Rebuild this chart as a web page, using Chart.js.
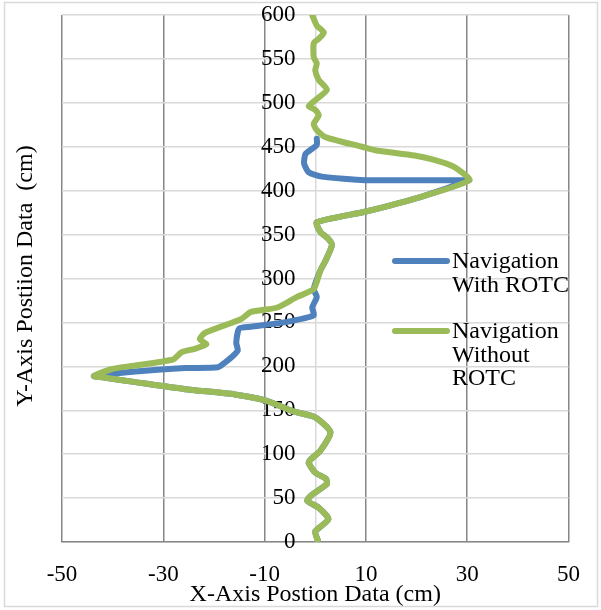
<!DOCTYPE html>
<html>
<head>
<meta charset="utf-8">
<script src="https://cdn.jsdelivr.net/npm/chart.js@4/dist/chart.umd.min.js"></script>
<style>
  html, body { margin: 0; padding: 0; background: #fff; }
  #wrap { width: 601px; height: 610px; }
</style>
</head>
<body>
<div id="wrap"><canvas id="myChart" width="601" height="610"></canvas></div>
<script>
// series (x in cm, y in cm)
const blueX = [0.5, 0, 2.6, 0.7, -1.6, -0.6, 2.3, 2.1, 0, -1.3, -0.9, 1, 3, 0, -4.5, -9.7, -15.9, -25.7, -35.5, -41.4, -43.7,
  -35.5, -25.7, -19.2, -17.9, -16.6, -15.3, -15.6, -15, -12.7, -6.2, -0.3, -0.6, 0.3, -0.3,
  1, 2, 3.3, 2.6, 1, 0.3, 9.8, 20.9, 30.4,
  29.4, 9.8, 1.3, -1.3, -2.2, -1.9, 0.3, 0.3];
const blueY = [2, 12, 26, 39, 47, 54, 66, 72, 79, 90, 94, 104, 125, 142, 149, 161, 168, 174, 182, 187, 189,
  194, 198, 199, 204, 210, 218, 227, 243, 245, 250, 258, 267, 279, 288,
  309, 320, 338, 345, 353, 364, 376, 393, 412,
  412, 412, 416, 421, 431, 442, 452, 459];

const greenX = [0.5, 0, 2.6, 0.7, -1.6, -0.6, 2.3, 2.1, 0, -1.3, -0.9, 1, 3, 0, -4.5, -9.7, -15.9, -25.7, -35.5, -41.4, -43.7,
  -40.1, -35.5, -28, -26.4, -23.8, -21.5, -22.8, -21.8, -14.6, -12.7, -7.5, -3.6, -0.3,
  1, 2, 3.3, 2.6, 1, 0.3, 9.8, 20.9, 30.4,
  27.4, 23.5, 19.6, 11.8, 9.2, 2, 0.3,
  -0.3, 0.7, 0, -1.3, 0, 2.3, 0.7, 0, 0.3, -0.3, -0.3, 0.7, 1.7, 0.3, -0.6];
const greenY = [2, 12, 26, 39, 47, 54, 66, 72, 79, 90, 94, 104, 125, 142, 149, 161, 168, 174, 182, 187, 189,
  197, 201, 208, 216, 220, 225, 231, 238, 254, 262, 267, 279, 288,
  309, 320, 338, 345, 353, 364, 376, 393, 412,
  427, 435, 440, 446, 450, 461, 469,
  476, 486, 492, 496, 503, 515, 526, 537, 545, 552, 568, 573, 580, 588, 600];

const legendLines = [['Navigation', 'With ROTC'], ['Navigation', 'Without', 'ROTC']];
const xTitle = 'X-Axis Postion Data (cm)';
const yTitle = 'Y-Axis Postiion Data  (cm)';

const X_MIN = -50, X_MAX = 50, X_STEP = 20;
const Y_MIN = 0, Y_MAX = 600, Y_STEP = 50;

const FONT = '"Liberation Serif", "Times New Roman", serif';
const BLUE = '#4F81BD';
const GREEN = '#9BBB59';

function toPoints(xs, ys) {
  return xs.map((x, i) => ({x: x, y: ys[i]}));
}

// frame, y title and legend in the Excel style
const decorations = {
  id: 'decorations',
  beforeDraw(chart) {
    const ctx = chart.ctx;
    ctx.save();
    ctx.fillStyle = '#fff';
    ctx.fillRect(0, 0, chart.width, chart.height);
    ctx.strokeStyle = '#D9D9D9';
    ctx.lineWidth = 1.5;
    ctx.strokeRect(4.5, 2.5, 593, 604);
    ctx.restore();
  },
  afterDraw(chart) {
    const ctx = chart.ctx;
    ctx.save();
    ctx.fillStyle = '#000';
    ctx.font = '24px ' + FONT;
    ctx.textAlign = 'center';
    ctx.textBaseline = 'middle';
    ctx.translate(26, 276);
    ctx.rotate(-Math.PI / 2);
    ctx.fillText(yTitle, 0, 0);
    ctx.restore();

    const tops = [261, 331];
    ctx.save();
    ctx.font = '24px ' + FONT;
    ctx.textBaseline = 'middle';
    ctx.textAlign = 'left';
    chart.data.datasets.forEach((ds, i) => {
      const y = tops[i];
      ctx.strokeStyle = ds.borderColor;
      ctx.lineWidth = 6;
      ctx.lineCap = 'round';
      ctx.beginPath();
      ctx.moveTo(395, y);
      ctx.lineTo(447, y);
      ctx.stroke();
      ctx.fillStyle = '#000';
      legendLines[i].forEach((t, j) => ctx.fillText(t, 452, y + 1 + j * 23.5));
    });
    ctx.restore();
  }
};

const data = {
  datasets: [
    {
      label: 'Navigation With ROTC',
      data: toPoints(blueX, blueY),
      borderColor: BLUE,
      backgroundColor: BLUE,
      order: 1
    },
    {
      label: 'Navigation Without ROTC',
      data: toPoints(greenX, greenY),
      borderColor: GREEN,
      backgroundColor: GREEN,
      order: 0
    }
  ]
};

const config = {
  type: 'scatter',
  data: data,
  options: {
    responsive: false,
    animation: false,
    showLine: true,
    elements: {
      point: { radius: 0, hoverRadius: 0 },
      line: { borderWidth: 6, tension: 0.2, borderCapStyle: 'round', borderJoinStyle: 'round', fill: false }
    },
    layout: { padding: { left: 62, right: 28, top: 15, bottom: 1 } },
    plugins: {
      legend: { display: false },
      tooltip: { enabled: false }
    },
    scales: {
      x: {
        type: 'linear',
        min: X_MIN,
        max: X_MAX,
        ticks: { stepSize: X_STEP, color: '#000', font: { family: FONT, size: 23, lineHeight: 1 }, padding: 21 },
        grid: { color: '#868686', lineWidth: 1.5, drawTicks: false },
        border: { color: '#868686', width: 1.5 },
        title: { display: true, text: xTitle, color: '#000', font: { family: FONT, size: 24, lineHeight: 1 }, padding: { top: -24, bottom: 2 } }
      },
      y: {
        type: 'linear',
        position: { x: 0 },
        min: Y_MIN,
        max: Y_MAX,
        ticks: { display: false, stepSize: Y_STEP },
        grid: { color: '#D9D9D9', lineWidth: 1.5, drawTicks: false },
        border: { color: '#D9D9D9', width: 1.5 }
      },
      yLabels: {
        type: 'linear',
        position: { x: -3.9 },
        min: Y_MIN,
        max: Y_MAX,
        ticks: { stepSize: Y_STEP, color: '#000', font: { family: FONT, size: 23, lineHeight: 1 } },
        grid: { display: false },
        border: { display: false }
      }
    }
  },
  plugins: [decorations]
};

const myChart = new Chart(document.getElementById('myChart'), config);
</script>
</body>
</html>
